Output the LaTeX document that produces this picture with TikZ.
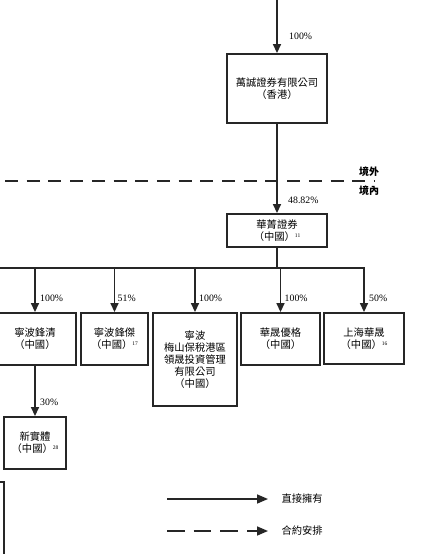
\documentclass[tikz,border=0pt]{standalone}
\usepackage{fontspec}
\setmainfont{Liberation Serif}
\newfontfamily\cjk{Noto Sans CJK TC}
\usepackage{tikz}
\usetikzlibrary{arrows.meta,positioning}
\newcommand\noteno[1]{\raisebox{0.55ex}{\rmfamily\fontsize{5.5}{5.5}\selectfont #1}}

\begin{document}
\begin{tikzpicture}[
  x=1pt,y=-1pt,
  >={Triangle[length=9pt,width=8pt]},
  every node/.style={font=\cjk\fontsize{10.3}{12}\selectfont},
  co/.style={rectangle,draw=black!85,line width=1.9pt,inner sep=0pt,align=center},
  ln/.style={line width=1.6pt,draw=black!85},
  pct/.style={anchor=west,inner sep=0pt,font=\rmfamily\fontsize{9.8}{10}\selectfont},
]
  \useasboundingbox (0,0) rectangle (447,554);

  \node[co,minimum width=100pt,minimum height=69pt] (wancheng) at (277,88.5) {萬誠證券有限公司\\（香港）};
  \node[co,minimum width=100pt,minimum height=33pt] (huajing)  at (277,230.5) {華菁證券\\（中國）\noteno{11}};

  \node[co,minimum width=82pt,minimum height=52pt] (fengqing)  at (35,339) {寧波鋒清\\（中國）};
  \node[co,minimum width=67pt,minimum height=52pt] (fengjie)   at (114.5,339) {寧波鋒傑\\（中國）\noteno{17}};
  \node[co,minimum width=84pt,minimum height=93pt] (lingsheng) at (195,359.5) {寧波\\梅山保稅港區\\領晟投資管理\\有限公司\\（中國）};
  \node[co,minimum width=79pt,minimum height=52pt] (youge)     at (280.5,339) {華晟優格\\（中國）};
  \node[co,minimum width=80pt,minimum height=51pt] (shhs)      at (364,338.5) {上海華晟\\（中國）\noteno{16}};
  \node[co,minimum width=62pt,minimum height=52pt] (xinshiti)  at (35,443) {新實體\\（中國）\noteno{28}};
  \node[co,minimum width=60pt,minimum height=120pt] (cutbox)   at (-26,542) {};

  % feeder lines and border
  \coordinate (top)  at (277,-5);
  \coordinate (busl) at (-5,268);
  \coordinate (bdl)  at (5,181);
  \coordinate (bdr)  at (375,181);
  \node[font=\cjk\bfseries\fontsize{10}{10}\selectfont] (jingwai) at (369,172) {境外};
  \node[font=\cjk\bfseries\fontsize{10}{10}\selectfont] (jingnei) at (369,191) {境內};

  \draw[ln,->] (top) -- (wancheng.north);
  \node[pct] at ([xshift=12pt,yshift=17pt]wancheng.north) {100\%};
  \draw[ln,->] (wancheng.south) -- (huajing.north);
  \node[pct] at ([xshift=11pt,yshift=13pt]huajing.north) {48.82\%};
  \draw[ln,dash pattern=on 13pt off 8.7pt] (bdl) -- (bdr);

  \draw[ln] (huajing.south) -- (huajing.south |- busl);
  \draw[ln,->] (busl) -| (shhs.north);
  \foreach \n in {fengqing,fengjie,lingsheng,youge}
    \draw[ln,->] (\n.north |- busl) -- (\n.north);
  \node[pct] at ([xshift=5pt,yshift=14pt]fengqing.north) {100\%};
  \node[pct] at ([xshift=3pt,yshift=14pt]fengjie.north) {51\%};
  \node[pct] at ([xshift=4pt,yshift=14pt]lingsheng.north) {100\%};
  \node[pct] at ([xshift=4pt,yshift=14pt]youge.north) {100\%};
  \node[pct] at ([xshift=5pt,yshift=14pt]shhs.north) {50\%};

  \draw[ln,->] (fengqing.south) -- (xinshiti.north);
  \node[pct] at ([xshift=5pt,yshift=14pt]xinshiti.north) {30\%};

  % legend
  \coordinate (lga) at (167,499);
  \coordinate (lgb) at (268,499);
  \coordinate (lgc) at (167,531);
  \coordinate (lgd) at (268,531);
  \node[anchor=west] (own)  at (278,499) {直接擁有};
  \node[anchor=west] (cont) at (278,531) {合約安排};
  \draw[ln,->,>={Triangle[length=11pt,width=9pt]}] (lga) -- (lgb);
  \draw[ln,->,>={Triangle[length=11pt,width=9pt]},dash pattern=on 17.7pt off 9pt] (lgc) -- (lgd);
\end{tikzpicture}
\end{document}
